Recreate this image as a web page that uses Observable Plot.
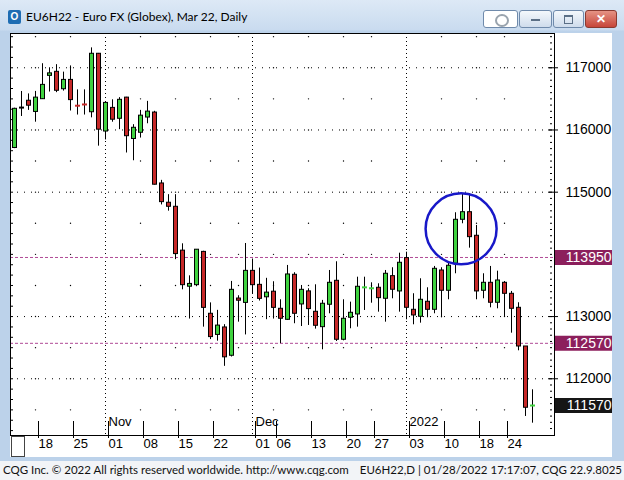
<!DOCTYPE html>
<html><head><meta charset="utf-8">
<script src="https://cdn.jsdelivr.net/npm/d3@7"></script>
<script src="https://cdn.jsdelivr.net/npm/@observablehq/plot@0.6"></script>
<style>
html,body{margin:0;padding:0;background:#fff;}
#win{position:relative;width:624px;height:480px;overflow:hidden;background:linear-gradient(#dde9f6 0px,#c9dbef 30px,#bcd2ea 31px,#bcd2ea 100%);font-family:Lato,"Liberation Sans",sans-serif;}
#icon{position:absolute;left:8px;top:10px;width:13px;height:14px;background:#1e6db3;border-radius:2px;color:#fff;font:bold 10px "Liberation Sans",sans-serif;text-align:center;line-height:14px;}
#title{position:absolute;left:26px;top:9px;font-size:12px;color:#000;white-space:nowrap;}
.btn{position:absolute;top:10px;height:16px;border:1px solid #6f8aab;border-radius:3px;background:linear-gradient(#f4f8fc,#cfdcec);}
#b0{left:483px;width:33px;background:#fff;}
#b1{left:519px;width:31px;}
#b2{left:553px;width:29px;}
#b3{left:585px;width:30px;background:linear-gradient(#e59384,#c7463a);border-color:#8a3a30;}
#b1 i{position:absolute;left:11px;top:8px;width:9px;height:2px;background:#5b6f86;}
#b2 i{position:absolute;left:10px;top:4px;width:7px;height:6px;border:1px solid #5b6f86;border-top-width:2px;}
#b3 i{position:absolute;left:0;top:0;width:30px;height:16px;color:#fff;font:bold 12px "Liberation Sans",sans-serif;text-align:center;line-height:16px;}
#b0 i{position:absolute;left:11px;top:3px;width:10px;height:9px;border:2px solid #9aa4ae;border-radius:50%;}
#chart{position:absolute;left:10px;top:33px;}
#thumb{position:absolute;left:11px;top:436px;width:12px;height:19px;background:#fff;border:1px solid #444;}
#status{position:absolute;left:0;top:461px;width:624px;height:19px;background:#f2f4f7;font-size:11.5px;color:#111;}
#status span{position:absolute;top:2px;white-space:nowrap;}
</style></head><body>
<div id="win">
 <div id="icon">O</div>
 <div id="title">EU6H22 - Euro FX (Globex), Mar 22, Daily</div>
 <div class="btn" id="b0"><i></i></div>
 <div class="btn" id="b1"><i></i></div>
 <div class="btn" id="b2"><i></i></div>
 <div class="btn" id="b3"><i>✕</i></div>
 <div id="chart"></div>
 <div id="thumb"></div>
 <div id="status"><span style="left:3px">CQG Inc. © 2022 All rights reserved worldwide. http://www.cqg.com</span><span style="right:2px">EU6H22,D | 01/28/2022 17:17:07, CQG 22.9.8025</span></div>
</div>
<script>
// ---- data ----
const dates = [
 "2021-10-13","2021-10-14","2021-10-15","2021-10-18","2021-10-19","2021-10-20","2021-10-21","2021-10-22","2021-10-25","2021-10-26","2021-10-27","2021-10-28","2021-10-29",
 "2021-11-01","2021-11-02","2021-11-03","2021-11-04","2021-11-05","2021-11-08","2021-11-09","2021-11-10","2021-11-11","2021-11-12","2021-11-15","2021-11-16","2021-11-17","2021-11-18","2021-11-19","2021-11-22","2021-11-23","2021-11-24","2021-11-26","2021-11-29","2021-11-30",
 "2021-12-01","2021-12-02","2021-12-03","2021-12-06","2021-12-07","2021-12-08","2021-12-09","2021-12-10","2021-12-13","2021-12-14","2021-12-15","2021-12-16","2021-12-17","2021-12-20","2021-12-21","2021-12-22","2021-12-23","2021-12-27","2021-12-28","2021-12-29","2021-12-30","2021-12-31",
 "2022-01-03","2022-01-04","2022-01-05","2022-01-06","2022-01-07","2022-01-10","2022-01-11","2022-01-12","2022-01-13","2022-01-14","2022-01-18","2022-01-19","2022-01-20","2022-01-21","2022-01-24","2022-01-25","2022-01-26","2022-01-27","2022-01-28"];
const opens = [115710,116360,116470,116290,116495,116870,116935,116655,116805,116400,116420,116285,117225,
 115975,116355,116180,116520,115855,115955,116200,116280,115140,114830,114765,114060,113480,113505,114040,113045,112705,112825,112370,113290,113220,
 113735,113510,113310,113400,113125,112948,113672,113195,113405,113077,112830,113190,113575,112627,112981,113034,113460,113445,113463,113286,113650,113404,
 113940,113109,112997,113238,113109,113741,113415,113849,114556,114678,114299,113415,113543,113222,113543,113366,113141,112519,111555];
const highs = [116350,116619,116580,116620,117065,117000,117050,116930,117030,116645,116645,117320,117230,
 116440,116485,116520,116525,116085,116315,116460,116300,115190,114960,114960,114170,113655,114075,114050,113220,113100,112870,113565,113335,114175,
 113925,113780,113615,113560,113270,113822,113705,113500,113447,113511,113260,113741,113881,113270,113232,113633,113633,113543,113527,113741,113785,114019,
 114035,113367,113608,113463,113806,113785,113875,114669,114974,114974,114465,113688,113806,113730,113564,113404,113222,112519,111823];
const lows = [115700,116217,116315,116125,116490,116610,116600,116625,116305,116240,116240,116195,115740,
 115840,116125,116005,115630,115505,115870,116100,115115,114795,114695,113915,113430,112960,113480,112830,112630,112605,112200,112350,112910,112705,
 113355,113250,112950,112960,112565,112940,112885,112840,112857,112798,112466,113045,112600,112610,112804,112830,113098,113215,113071,112910,113286,113071,
 112948,112868,112894,112981,113045,112981,113270,113688,114492,114100,113270,113286,113141,113125,112990,112733,112450,111394,111286];
const closes = [116340,116360,116390,116520,116725,116910,116630,116805,116480,116390,116410,117225,116005,
 116435,116165,116485,115900,116035,116230,116295,115120,114840,114765,114005,113505,113525,114075,113140,112670,112855,112345,113430,113255,113735,
 113505,113285,113385,113140,112965,113677,113045,113430,113120,112852,113206,113543,112627,112965,113061,113479,113470,113455,113296,113688,113431,113865,
 113141,113018,113270,113109,113768,113415,113817,114556,114678,114277,113404,113543,113222,113580,113366,113125,112519,111534,111570];

const priceTicks = [112000, 113000, 115000, 116000, 117000];
const gridLevels = [112000, 113000, 115000, 116000, 117000];
const dotLevels = [111500, 112000, 112500, 113000, 113500, 114000, 114500, 115000, 115500, 116000, 116500, 117000, 117500];
const levelPrices = [113950, 112570];
const lastPrice = [111570];
const weekGridDates = ["2021-10-18","2021-10-25","2021-11-08","2021-11-15","2021-11-22","2021-11-29","2021-12-06","2021-12-13","2021-12-20","2021-12-27","2022-01-10","2022-01-18","2022-01-24"];
const weekLabelDates = ["2021-10-18","2021-10-25","2021-11-01","2021-11-08","2021-11-15","2021-11-22","2021-12-01","2021-12-06","2021-12-13","2021-12-20","2021-12-27","2022-01-03","2022-01-10","2022-01-18","2022-01-24"];
const weekLabels = ["18","25","01","08","15","22","01","06","13","20","27","03","10","18","24"];
const monthDates = ["2021-11-01","2021-12-01","2022-01-03"];
const monthLabels = ["Nov","Dec","2022"];
const circleDate = ["2022-01-13"];
const circlePrice = [114410];

// ---- build ----
const idx = s => dates.indexOf(s);
const data = dates.map((d, i) => ({i, date: d, open: opens[i], high: highs[i], low: lows[i], close: closes[i]}));
const up = "#3fd23f", down = "#c62828";
const bodies = data.filter(d => Math.abs(d.close - d.open) >= 20);
const dashes = data.filter(d => Math.abs(d.close - d.open) < 20);
const weekIdx = weekGridDates.map(idx);
const weekDots = weekIdx.flatMap(i => dotLevels.map(p => ({i, p})));
const labelIdx = weekLabelDates.map(idx);
const months = monthDates.map((d, k) => ({i: idx(d), label: monthLabels[k]}));
const circle = circleDate.map((d, k) => ({i: idx(d) - 0.2, p: circlePrice[k]}));
const minorTicks = d3.range(111200, 117600, 100);
const leftTicks = d3.range(-36, 4).map(k => 117000 + k * 1000 / 6).filter(p => p > 111100 && p < 117550);

const W = 602, H = 424, mR = 58, mB = 22;
const chart = Plot.plot({
  width: W, height: H,
  marginLeft: 0, marginTop: 0, marginRight: mR, marginBottom: mB,
  style: {background: "#fff", fontFamily: "'Liberation Sans', Arial, sans-serif", fontSize: "14px", color: "#000", overflow: "visible"},
  x: {type: "linear", domain: [-4 / 7, 540 / 7], axis: null, label: null},
  y: {type: "linear", domain: [111088, 117551], axis: null, label: null},
  color: {type: "identity"},
  marks: [
    Plot.ruleY(gridLevels, {stroke: "#000", strokeDasharray: "1,6"}),
    Plot.ruleX(months, {x: "i", stroke: "#000", strokeDasharray: "1,3"}),
    Plot.dot(weekDots, {x: "i", y: "p", r: 0.7, fill: "#000", stroke: null}),
    Plot.ruleY(levelPrices, {stroke: "#b04a96", strokeDasharray: "3,2"}),
    Plot.ruleY(minorTicks, {stroke: "#000", insetLeft: 540, insetRight: 2}),
    Plot.ruleY(gridLevels, {stroke: "#000", insetLeft: 538, insetRight: -4}),
    Plot.ruleY(leftTicks, {stroke: "#000", insetRight: 541}),
    Plot.ruleX(data, {x: "i", y1: "low", y2: "high", stroke: "#000"}),
    Plot.rect(bodies, {x1: d => d.i - 1.5 / 7, x2: d => d.i + 2.5 / 7, y1: "open", y2: "close",
      fill: d => d.close > d.open ? up : down, stroke: "#000"}),
    Plot.ruleY(dashes, {y: "close", x1: d => d.i - 2 / 7, x2: d => d.i + 3 / 7, strokeWidth: 2,
      stroke: d => d.close > d.open ? up : d.close < d.open ? down : "#000"}),
    Plot.dot(circle, {x: "i", y: "p", r: 35.5, stroke: "#1818c8", strokeWidth: 2.5, fill: "none"}),
    Plot.text(months, {x: "i", text: "label", frameAnchor: "bottom", textAnchor: "start", dx: 3, dy: -10, fontSize: 13}),
    Plot.frame({stroke: "#000"}),
    Plot.axisY(priceTicks, {anchor: "right", tickSize: 0, tickPadding: 11, tickFormat: d => String(d), fontSize: 14, label: null}),
    Plot.ruleY(levelPrices, {stroke: "#8c1f5c", strokeWidth: 15, insetLeft: 545, insetRight: -58}),
    Plot.text(levelPrices, {y: d => d, text: d => String(d), frameAnchor: "right", dx: 57, textAnchor: "end", fill: "#fff", fontSize: 14}),
    Plot.ruleY(lastPrice, {stroke: "#161616", strokeWidth: 15, insetLeft: 545, insetRight: -58}),
    Plot.text(lastPrice, {y: d => d, text: d => String(d), frameAnchor: "right", dx: 57, textAnchor: "end", fill: "#fff", fontSize: 14}),
    Plot.axisX(labelIdx, {anchor: "bottom", tickSize: 17, tickPadding: 0, dy: -14, dx: 3, textAnchor: "start", lineAnchor: "top",
      tickFormat: d => weekLabels[labelIdx.indexOf(d)], fontSize: 13, label: null})
  ]
});
document.getElementById("chart").appendChild(chart);
</script>
</body></html>
